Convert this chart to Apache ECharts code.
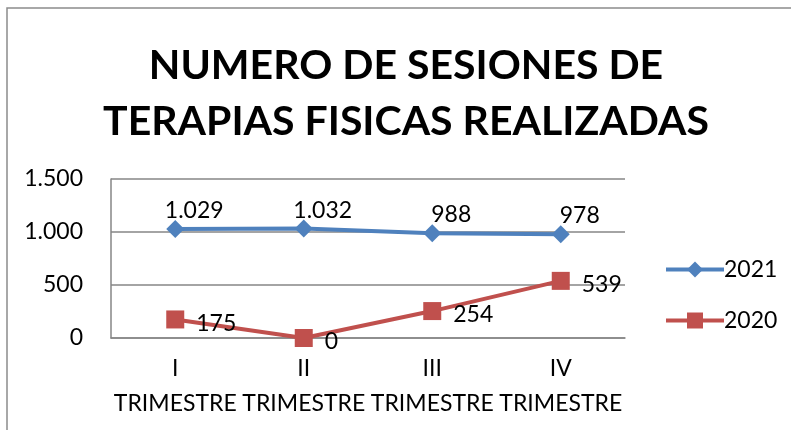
<!DOCTYPE html>
<html>
<head>
<meta charset="utf-8">
<script src="https://cdn.jsdelivr.net/npm/echarts@6/dist/echarts.min.js"></script>
<style>
  html, body { margin: 0; padding: 0; background: #fff; }
  #chart { width: 791px; height: 430px; }
</style>
</head>
<body>
<div id="chart"></div>
<script>
const categories = ['I\nTRIMESTRE', 'II\nTRIMESTRE', 'III\nTRIMESTRE', 'IV\nTRIMESTRE']
const values2021 = [1029, 1032, 988, 978]
const values2020 = [175, 0, 254, 539]
const seriesNames = ['2021', '2020']

// separador de miles con punto
const fmt = (v) => String(v).replace(/\B(?=(\d{3})+(?!\d))/g, '.')

const chart = echarts.init(document.getElementById('chart'))
const font = 'Lato, "Open Sans", sans-serif'

chart.setOption({
  animation: false,
  textStyle: { fontFamily: font },
  title: {
    text: 'NUMERO DE SESIONES DE\nTERAPIAS FISICAS REALIZADAS',
    left: 401,
    textAlign: 'center',
    top: 33,
    textStyle: { fontSize: 41, fontWeight: 'bold', color: '#000', lineHeight: 56, fontFamily: font },
  },
  graphic: [
    {
      type: 'polyline',
      shape: { points: [[7, 430], [7, 8], [791, 8]] },
      style: { stroke: '#8c8c8c', lineWidth: 1.5, fill: null },
    },
  ],
  legend: {
    orient: 'vertical',
    left: 659,
    top: 253,
    itemWidth: 58,
    itemHeight: 20,
    itemGap: 28,
    lineStyle: { width: 4 },
    textStyle: { fontSize: 23, color: '#000', padding: [0, 0, 0, -5] },
    data: seriesNames,
  },
  grid: { left: 111, right: 166, top: 179, bottom: 92 },
  xAxis: {
    type: 'category',
    data: categories,
    boundaryGap: true,
    axisLine: { lineStyle: { color: '#868686', width: 1.5 } },
    axisTick: { show: false },
    axisLabel: { interval: 0, fontSize: 23, color: '#000', lineHeight: 35, margin: 13 },
  },
  yAxis: {
    type: 'value',
    min: 0,
    max: 1500,
    interval: 500,
    axisLine: { show: true, lineStyle: { color: '#868686', width: 1.5 } },
    axisTick: { show: false },
    splitLine: { lineStyle: { color: '#868686', width: 1.5 } },
    axisLabel: { fontSize: 23, color: '#000', margin: 28, formatter: fmt },
  },
  series: [
    {
      name: seriesNames[0],
      type: 'line',
      data: values2021,
      symbol: 'diamond',
      symbolSize: 18,
      lineStyle: { color: '#4F81BD', width: 4 },
      itemStyle: { color: '#4F81BD' },
      label: {
        show: true,
        position: 'top',
        offset: [19, 7],
        fontSize: 23,
        color: '#000',
        formatter: (p) => fmt(p.value),
      },
    },
    {
      name: seriesNames[1],
      type: 'line',
      data: values2020,
      symbol: 'rect',
      symbolSize: 18,
      lineStyle: { color: '#C0504D', width: 4 },
      itemStyle: { color: '#C0504D' },
      label: {
        show: true,
        position: 'right',
        offset: [7, 4],
        fontSize: 23,
        color: '#000',
        formatter: (p) => fmt(p.value),
      },
    },
  ],
})
</script>
</body>
</html>
